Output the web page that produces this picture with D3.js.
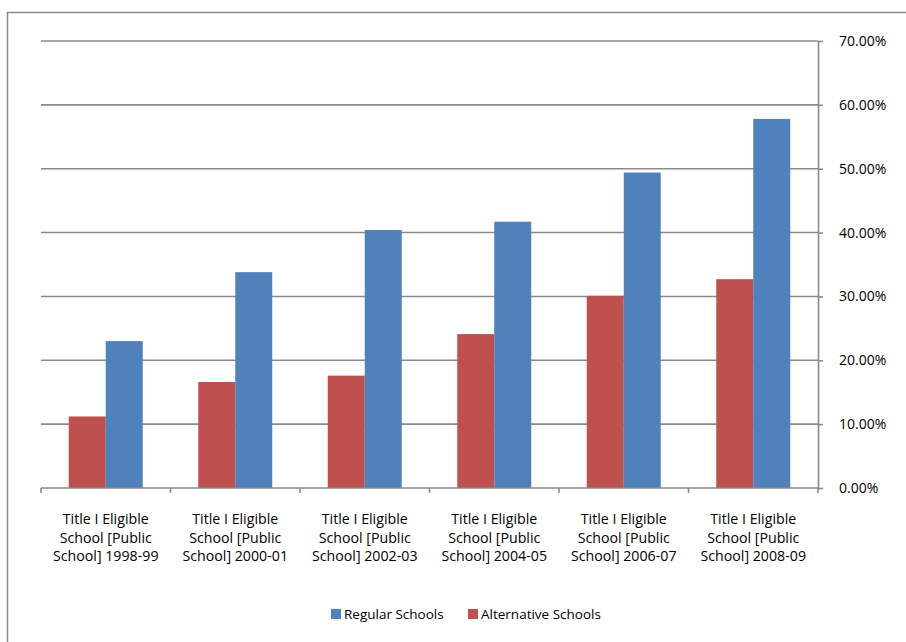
<!DOCTYPE html>
<html><head><meta charset="utf-8">
<script src="https://cdn.jsdelivr.net/npm/d3@7"></script>
<style>body{margin:0;background:#fff}svg{display:block}text{font-family:"Open Sans","Noto Sans",sans-serif;fill:#000}</style>
</head><body><svg id="c" width="906" height="642"></svg>
<script>
const categories = ["Title I Eligible|School [Public|School] 1998-99","Title I Eligible|School [Public|School] 2000-01","Title I Eligible|School [Public|School] 2002-03","Title I Eligible|School [Public|School] 2004-05","Title I Eligible|School [Public|School] 2006-07","Title I Eligible|School [Public|School] 2008-09"];
const seriesNames = ["Alternative Schools","Regular Schools"];
const alternative = [0.112,0.166,0.176,0.241,0.301,0.327];
const regular = [0.230,0.338,0.404,0.417,0.494,0.578];
const yTicks = [0,0.1,0.2,0.3,0.4,0.5,0.6,0.7];
const colors = {"Regular Schools":"#4F81BD","Alternative Schools":"#C0504D"};
const legendOrder = ["Regular Schools","Alternative Schools"];

(function(){
const svg = d3.select("#c");
svg.append("path").attr("d","M7.5,642 V12.5 H906").attr("fill","none").attr("stroke","#8c8c8c").attr("stroke-width",1.5);

const pL=41,pR=818,pT=41,pB=488;
const x = d3.scaleBand().domain(d3.range(categories.length)).range([pL,pR]).paddingInner(0).paddingOuter(0);
const y = d3.scaleLinear().domain([0,0.7]).range([pB,pT]);
const gw = x.bandwidth();
const xs = d3.scaleBand().domain(seriesNames).range([gw*0.75/3.5, gw - gw*0.75/3.5]);

svg.append("g").selectAll("line").data(yTicks.slice(1)).join("line")
  .attr("x1",pL).attr("x2",pR).attr("y1",d=>y(d)).attr("y2",d=>y(d))
  .attr("stroke","#8a8a8a").attr("stroke-width",1.6);

const data = [alternative, regular];
seriesNames.forEach((s,si)=>{
  svg.append("g").selectAll("rect").data(data[si]).join("rect")
    .attr("x",(d,i)=>x(i)+xs(s)).attr("width",xs.bandwidth())
    .attr("y",d=>y(d)).attr("height",d=>y(0)-y(d))
    .attr("fill",colors[s]);
});

const ya = d3.axisRight(y).tickValues(yTicks).tickFormat(d=>(d*100).toFixed(2)+"%").tickSize(5).tickPadding(16);
const gy = svg.append("g").attr("transform",`translate(${pR},0)`).call(ya);
gy.select(".domain").attr("stroke","#8a8a8a").attr("stroke-width",1.6).attr("d",`M0.5,${pT}V${pB}`);
gy.selectAll(".tick line").attr("stroke","#8a8a8a").attr("stroke-width",1.6);
gy.selectAll(".tick text").style("font-size","14px").attr("fill","#000");

svg.append("line").attr("x1",pL).attr("x2",pR).attr("y1",pB).attr("y2",pB).attr("stroke","#8a8a8a").attr("stroke-width",1.6);
svg.append("g").selectAll("line").data(d3.range(categories.length+1)).join("line")
  .attr("x1",d=>pL+d*gw).attr("x2",d=>pL+d*gw).attr("y1",pB).attr("y2",pB+5)
  .attr("stroke","#8a8a8a").attr("stroke-width",1.6);

const cl = svg.append("g").selectAll("text").data(categories).join("text")
  .attr("text-anchor","middle").style("font-size","14.2px")
  .attr("transform",(d,i)=>`translate(${x(i)+gw/2},524)`);
cl.each(function(d){
  d.split("|").forEach((t,k)=>d3.select(this).append("tspan").attr("x",0).attr("y",k*18.5).text(t));
});

const lg = svg.append("g");
const lpos = [331,468];
legendOrder.forEach((s,i)=>{
  lg.append("rect").attr("x",lpos[i]).attr("y",609).attr("width",10).attr("height",10).attr("fill",colors[s]);
  lg.append("text").attr("x",lpos[i]+13).attr("y",619).style("font-size","13.5px").text(s);
});
})();
</script></body></html>
